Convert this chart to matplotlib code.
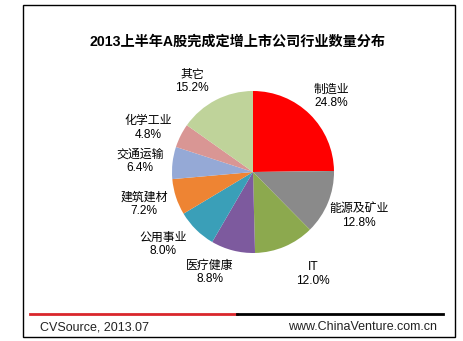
import matplotlib
matplotlib.use("Agg")
import matplotlib.pyplot as plt
from matplotlib.patches import Rectangle
from matplotlib.lines import Line2D

# Industry breakdown of companies completing private placements, H1 2013
industries = ["制造业", "能源及矿业", "IT", "医疗健康", "公用事业",
              "建筑建材", "交通运输", "化学工业", "其它"]
shares = [24.8, 12.8, 12.0, 8.8, 8.0, 7.2, 6.4, 4.8, 15.2]
colors = ["#FF0000", "#8A8A8A", "#8CA94E", "#7D5A9E", "#3A9FB8",
          "#EE8433", "#95A9D6", "#D99694", "#BFD39A"]

title = "2013上半年A股完成定增上市公司行业数量分布"
source = "CVSource, 2013.07"
site = "www.ChinaVenture.com.cn"

# label anchor points in units of the pie radius (best-fit placement)
label_xy = [(0.963, 0.932), (1.309, -0.543), (0.741, -1.259),
            (-0.531, -1.241), (-1.111, -0.895), (-1.346, -0.401),
            (-1.395, 0.136), (-1.296, 0.543), (-0.753, 1.117)]

FONTS = ["Liberation Sans", "Noto Sans CJK SC"]
W, H = 463, 341
fig = plt.figure(figsize=(W / 100, H / 100), dpi=100)

# outer frame
fig.add_artist(Rectangle((23 / W, 1 - 337 / H), 432 / W, 332 / H,
                         transform=fig.transFigure, fill=False,
                         edgecolor="black", linewidth=1))

fig.text(238 / W, 1 - 42 / H, title, ha="center", va="center",
         fontsize=10.2, fontweight="bold", family=FONTS, color="black")

# pie axes: centre (253,172) px, radius 81 px
r_px = 81
span = 1.6
cx, cy = 253, 172
aw = 2 * span * r_px
ax = fig.add_axes([(cx - aw / 2) / W, 1 - (cy + aw / 2) / H, aw / W, aw / H])

labels = [f"{n}\n{v:.1f}%" for n, v in zip(industries, shares)]
wedges, texts = ax.pie(shares, colors=colors, startangle=90, counterclock=False,
                       labels=labels,
                       textprops=dict(family=FONTS, fontsize=8.6,
                                      ha="center", va="center",
                                      linespacing=1.15),
                       wedgeprops=dict(linewidth=0))
ax.set_xlim(-span, span)
ax.set_ylim(-span, span)
ax.set_aspect("equal")
ax.axis("off")
for t, xy in zip(texts, label_xy):
    t.set_position(xy)
    t.set_horizontalalignment("center")
    t.set_verticalalignment("center")
    t.set_multialignment("center")

# footer rule and captions
fig.add_artist(Line2D([30 / W, 237 / W], [1 - 314 / H] * 2, color="#D9262B",
                      linewidth=2, transform=fig.transFigure))
fig.add_artist(Line2D([237 / W, 443 / W], [1 - 314 / H] * 2, color="black",
                      linewidth=2, transform=fig.transFigure))
fig.text(40 / W, 1 - 327 / H, source, ha="left", va="center",
         fontsize=9, family=FONTS, color="#222222")
fig.text(437 / W, 1 - 327 / H, site, ha="right", va="center",
         fontsize=9, family=FONTS, color="#222222")

fig.savefig("out.png", dpi=100)
